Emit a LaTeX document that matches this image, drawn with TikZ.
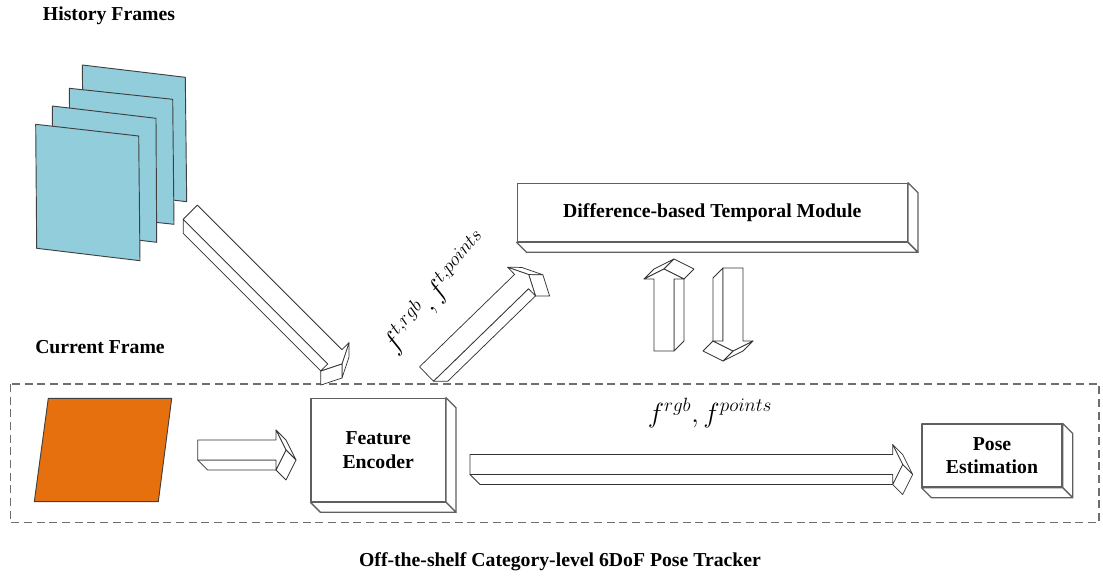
\documentclass[tikz,border=0pt]{standalone}
\usepackage{fontspec}
\setmainfont{Liberation Serif}[BoldFont={Liberation Serif Bold}]
\definecolor{framblue}{RGB}{146,205,220}
\definecolor{framorange}{RGB}{230,112,14}
\definecolor{edgegray}{RGB}{95,95,95}
\definecolor{dashgray}{RGB}{110,110,110}
\tikzset{
  arrface/.style={fill=white, draw=black!80, line width=0.55pt, line join=round},
  boxface/.style={fill=white, draw=edgegray, line width=0.95pt, line join=round},
  blockbox/.style={boxface, inner sep=0pt, align=center, font=\fontsize{14.8}{17.5}\selectfont\bfseries},
  frame/.style={draw=black!75, line width=0.7pt, line join=round},
  title/.style={font=\fontsize{14.8}{17.5}\selectfont\bfseries, inner sep=0pt},
  mathlabel/.style={font=\fontsize{21}{25}\selectfont, inner sep=0pt}
}
% 3D block arrow: tail centre (x,y) in px, angle, shaft length
\newcommand\tdarrow[4]{%
\begin{scope}[shift={(#1,#2)},rotate=#3]
 \filldraw[arrface] (0,10) -- (#4,10) -- (#4+10,20) -- (10,20) -- cycle;
 \filldraw[arrface] (#4,-20) -- (#4+10,0) -- (#4+20,10) -- (#4+10,-10) -- cycle;
 \filldraw[arrface] (#4+10,0) -- (#4,20) -- (#4+10,30) -- (#4+20,10) -- cycle;
 \filldraw[arrface] (0,-10) -- (#4,-10) -- (#4,-20) -- (#4+10,0) -- (#4,20) -- (#4,10) -- (0,10) -- cycle;
\end{scope}}
% 3D box depth faces for a node
\newcommand\boxdepth[1]{%
 \filldraw[boxface] (#1.north east) -- ++(10,10) -- ([shift={(10,10)}]#1.south east) -- (#1.south east) -- cycle;
 \filldraw[boxface] (#1.south west) -- ++(10,10) -- ([shift={(10,10)}]#1.south east) -- (#1.south east) -- cycle;
}
\begin{document}
\begin{tikzpicture}[x=0.75pt,y=-0.75pt]
\useasboundingbox (0,0) rectangle (1103,575);

% titles
\node[title] (hist) at (109,16) {History Frames};
\node[title] (cur) at (100,347) {Current Frame};
\node[title] (trk) at (560,562) {Off-the-shelf Category-level 6DoF Pose Tracker};

% history frames
\filldraw[frame, fill=framblue] (82.3,65) -- (185.3,77.3) -- (186.7,201.7) -- (83.7,189.4) -- cycle;
\filldraw[frame, fill=framblue] (69.3,88.3) -- (172.7,99.3) -- (174,224.3) -- (70.6,213.3) -- cycle;
\filldraw[frame, fill=framblue] (52.3,106) -- (156,118.3) -- (156.7,242.3) -- (53,230) -- cycle;
\filldraw[frame, fill=framblue] (35.7,124.3) -- (138.7,136) -- (140,260.7) -- (36.7,248.3) -- cycle;

% dashed tracker region
\draw[dashgray, line width=0.9pt, dash pattern=on 6pt off 3.5pt] (10.5,384) rectangle (1099,522.5);

% current frame
\filldraw[frame, fill=framorange] (48.3,398.3) -- (171.7,398.3) -- (158.3,501.7) -- (34.3,501.7) -- cycle;

% boxes
\node[blockbox, minimum width=100.7pt, minimum height=77.5pt] (fe) at (378.2,450) {Feature\\Encoder};
\boxdepth{fe}
\node[blockbox, minimum width=292.5pt, minimum height=43.8pt] (dtm) at (712.3,212.5) {Difference-based Temporal Module};
\boxdepth{dtm}
\node[blockbox, minimum width=105pt, minimum height=47.25pt] (pe) at (992,455.5) {Pose\\Estimation};
\boxdepth{pe}

% 3D arrows
\tdarrow{190.3}{212.2}{-45}{204.5}
\tdarrow{426.5}{374}{44.2}{132.6}
\tdarrow{197.7}{450}{0}{78.3}
\tdarrow{470}{464.5}{0}{422.7}
\tdarrow{664}{351}{90}{72}
\tdarrow{733}{268}{-90}{73}

% labels
\node[mathlabel] (lt) at (436,292) [rotate=49.7] {$f^{t,rgb}, f^{t,points}$};
\node[mathlabel] (lf) at (710,413) {$f^{rgb}, f^{points}$};
\end{tikzpicture}
\end{document}
